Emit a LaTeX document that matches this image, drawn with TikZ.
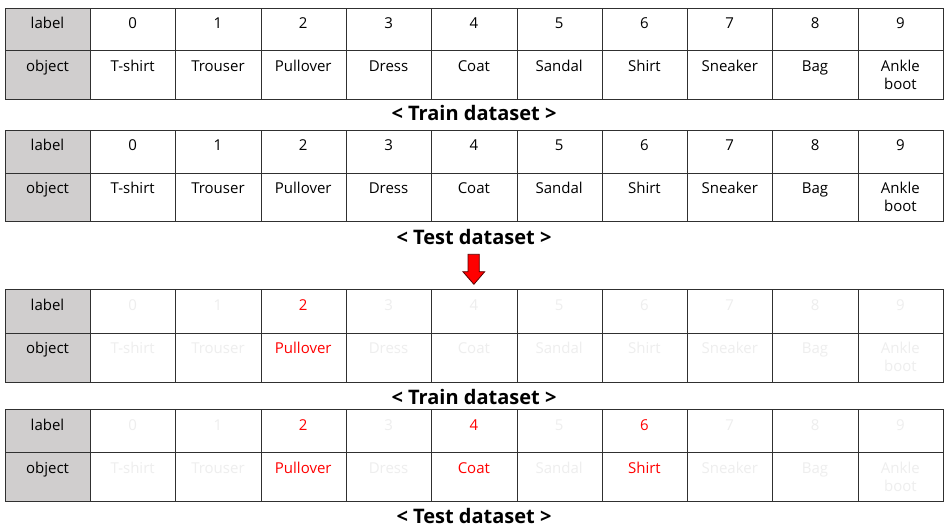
\documentclass[tikz,border=0pt]{standalone}
\usepackage{fontspec}
\setmainfont{Open Sans}
\definecolor{hdrgray}{HTML}{D0CECE}
\definecolor{faded}{HTML}{EEEEEE}
\definecolor{gridline}{HTML}{303030}
\definecolor{hired}{HTML}{FF0000}
\definecolor{arrowedge}{HTML}{5A0000}
\tikzset{
  cellbox/.style={draw=gridline, line width=1pt, minimum width=85.3pt, inner sep=0pt, anchor=north west, fill=white},
  hdrbox/.style={cellbox, fill=hdrgray},
  celltext/.style={inner sep=0pt, anchor=base, font=\fontsize{15}{18}\selectfont},
  captext/.style={inner sep=0pt, anchor=center, font=\fontsize{20}{23}\selectfont\bfseries},
  arrowshape/.style={fill=hired, draw=arrowedge, line width=0.8pt, line join=miter}
}
\newcommand\fmobjname[1]{%
  \ifcase#1\def\fmobj{T-shirt}\or\def\fmobj{Trouser}\or\def\fmobj{Pullover}\or
  \def\fmobj{Dress}\or\def\fmobj{Coat}\or\def\fmobj{Sandal}\or\def\fmobj{Shirt}\or
  \def\fmobj{Sneaker}\or\def\fmobj{Bag}\or\def\fmobj{Ankle\\boot}\fi}
% #1 name, #2 top, #3 split, #4 bottom, #5 colour codes (0 black, 1 faded, 2 red)
\newcommand\fmtable[5]{%
  \pgfmathsetmacro\hA{#3-#2}%
  \pgfmathsetmacro\hB{#4-#3}%
  \node[hdrbox, minimum height=\hA pt] (#1-hl) at (5,#2) {};
  \node[hdrbox, minimum height=\hB pt] (#1-ho) at (5,#3) {};
  \node[celltext] (#1-tl) at (47.5,#2+20.7) {label};
  \node[celltext] (#1-to) at (47.5,#3+21) {object};
  \foreach \code [count=\i from 0] in {#5}{
    \fmobjname{\i}%
    \ifcase\code\def\tc{black}\or\def\tc{faded}\or\def\tc{hired}\fi
    \node[cellbox, minimum height=\hA pt] (#1-l\i) at (90+85.3*\i,#2) {};
    \node[cellbox, minimum height=\hB pt] (#1-o\i) at (90+85.3*\i,#3) {};
    \node[celltext, text=\tc] (#1-lt\i) at (90+85.3*\i+42.65,#2+20.7) {\i};
    \node[celltext, text=\tc] (#1-ot\i) at (90+85.3*\i+42.65,#3+21) {\begin{tabular}[t]{@{}c@{}}\fmobj\end{tabular}};
  }
}
\begin{document}
\begin{tikzpicture}[x=1pt,y=-1pt]
\useasboundingbox[fill=white] (0,0) rectangle (949,530);
\fmtable{A}{7.7}{50}{98.5}{0,0,0,0,0,0,0,0,0,0}
\node[captext] (capA) at (474,113) {< Train dataset >};
\fmtable{B}{130}{172.7}{221}{0,0,0,0,0,0,0,0,0,0}
\node[captext] (capB) at (474,237) {< Test dataset >};
\draw[arrowshape] (468,254.3) -- (479.3,254.3) -- (479.3,271.7) -- (484.7,271.7)
  -- (473.9,284.3) -- (462.9,271.7) -- (468,271.7) -- cycle;
\fmtable{C}{289.3}{332.7}{381.7}{1,1,2,1,1,1,1,1,1,1}
\node[captext] (capC) at (474,396.7) {< Train dataset >};
\fmtable{D}{409.3}{452.3}{501}{1,1,2,1,2,1,2,1,1,1}
\node[captext] (capD) at (474,516) {< Test dataset >};
\end{tikzpicture}
\end{document}
